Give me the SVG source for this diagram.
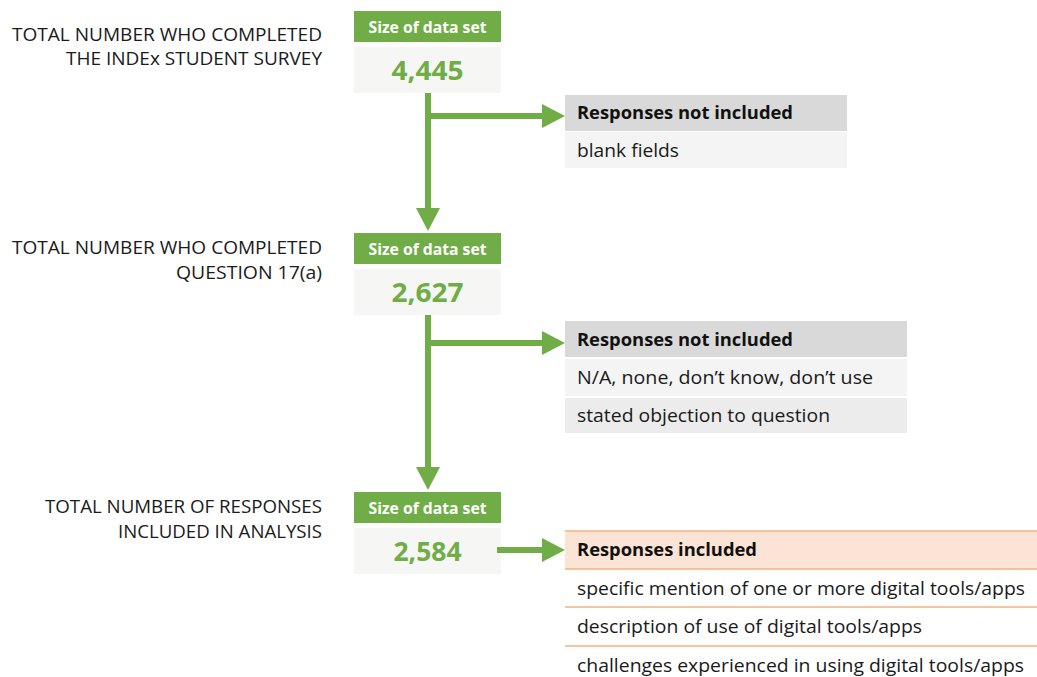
<svg xmlns="http://www.w3.org/2000/svg" width="1037" height="677" viewBox="0 0 1037 677">
  <style>
    .label { font-family: "Open Sans", "Liberation Sans", sans-serif; font-size: 19px; fill: #1a1a1a; text-anchor: end; }
    .hdr { fill: #70ad47; }
    .hdr-text { font-family: "Open Sans", "Liberation Sans", sans-serif; font-size: 16px; font-weight: bold; fill: #ffffff; text-anchor: middle; }
    .val { fill: #f6f6f4; }
    .val-text { font-family: "Open Sans", "Liberation Sans", sans-serif; font-size: 27px; font-weight: bold; fill: #70ad47; text-anchor: middle; }
    .gray-hdr { fill: #d9d9d9; }
    .gray-row { fill: #f4f4f4; }
    .gray-row2 { fill: #ececec; }
    .peach-hdr { fill: #fbe4d5; }
    .rule { stroke: #f4b183; stroke-width: 1.5; fill: none; }
    .cell-bold { font-family: "Open Sans", "Liberation Sans", sans-serif; font-size: 18px; font-weight: bold; fill: #111111; }
    .cell { font-family: "Open Sans", "Liberation Sans", sans-serif; font-size: 18px; fill: #1a1a1a; }
    .flow { stroke: #70ad47; stroke-width: 6; fill: none; marker-end: url(#ah); }
  </style>
  <defs>
    <marker id="ah" markerUnits="userSpaceOnUse" markerWidth="24" markerHeight="24" refX="8" refY="12" orient="auto">
      <path d="M0,0 L23,12 L0,24 z" fill="#70ad47"/>
    </marker>
  </defs>

  <rect width="1037" height="677" fill="#ffffff"/>

  <!-- stage labels -->
  <g id="label-survey">
    <text class="label" x="322" y="41" textLength="310" lengthAdjust="spacingAndGlyphs">TOTAL NUMBER WHO COMPLETED</text>
    <text class="label" x="322" y="65" textLength="256" lengthAdjust="spacingAndGlyphs">THE INDEx STUDENT SURVEY</text>
  </g>
  <g id="label-question">
    <text class="label" x="322" y="254" textLength="310" lengthAdjust="spacingAndGlyphs">TOTAL NUMBER WHO COMPLETED</text>
    <text class="label" x="322" y="279" textLength="146" lengthAdjust="spacingAndGlyphs">QUESTION 17(a)</text>
  </g>
  <g id="label-analysis">
    <text class="label" x="322" y="513" textLength="277" lengthAdjust="spacingAndGlyphs">TOTAL NUMBER OF RESPONSES</text>
    <text class="label" x="322" y="538" textLength="204" lengthAdjust="spacingAndGlyphs">INCLUDED IN ANALYSIS</text>
  </g>

  <!-- data set sizes -->
  <g id="size-survey">
    <rect class="hdr" x="354" y="11" width="147" height="31"/>
    <text class="hdr-text" x="427.5" y="33" textLength="118" lengthAdjust="spacingAndGlyphs">Size of data set</text>
    <rect class="val" x="354" y="47" width="147" height="46"/>
    <text class="val-text" x="427.5" y="80" textLength="72" lengthAdjust="spacingAndGlyphs">4,445</text>
  </g>
  <g id="size-question">
    <rect class="hdr" x="354" y="233" width="147" height="31"/>
    <text class="hdr-text" x="427.5" y="255" textLength="118" lengthAdjust="spacingAndGlyphs">Size of data set</text>
    <rect class="val" x="354" y="269" width="147" height="46"/>
    <text class="val-text" x="427.5" y="302" textLength="72" lengthAdjust="spacingAndGlyphs">2,627</text>
  </g>
  <g id="size-analysis">
    <rect class="hdr" x="354" y="492" width="147" height="31"/>
    <text class="hdr-text" x="427.5" y="514" textLength="118" lengthAdjust="spacingAndGlyphs">Size of data set</text>
    <rect class="val" x="354" y="528" width="147" height="46"/>
    <text class="val-text" x="427.5" y="561" textLength="68" lengthAdjust="spacingAndGlyphs">2,584</text>
  </g>

  <!-- excluded: blank -->
  <g id="excluded-blank">
    <rect class="gray-hdr" x="565" y="95" width="282" height="36"/>
    <text class="cell-bold" x="577" y="119" textLength="216" lengthAdjust="spacingAndGlyphs">Responses not included</text>
    <rect class="gray-row" x="565" y="132" width="282" height="36"/>
    <text class="cell" x="577" y="157" textLength="102" lengthAdjust="spacingAndGlyphs">blank fields</text>
  </g>

  <!-- excluded: non-answers -->
  <g id="excluded-other">
    <rect class="gray-hdr" x="565" y="321" width="342" height="36"/>
    <text class="cell-bold" x="577" y="346" textLength="216" lengthAdjust="spacingAndGlyphs">Responses not included</text>
    <rect class="gray-row" x="565" y="359" width="342" height="37"/>
    <text class="cell" x="577" y="384" textLength="296" lengthAdjust="spacingAndGlyphs">N/A, none, don’t know, don’t use</text>
    <rect class="gray-row2" x="565" y="398" width="342" height="35"/>
    <text class="cell" x="577" y="422" textLength="253" lengthAdjust="spacingAndGlyphs">stated objection to question</text>
  </g>

  <!-- included -->
  <g id="included">
    <rect class="peach-hdr" x="565" y="531" width="472" height="38"/>
    <line class="rule" x1="565" y1="531" x2="1037" y2="531"/>
    <line class="rule" x1="565" y1="569" x2="1037" y2="569"/>
    <line class="rule" x1="565" y1="607" x2="1037" y2="607"/>
    <line class="rule" x1="565" y1="646" x2="1037" y2="646"/>
    <text class="cell-bold" x="577" y="556" textLength="180" lengthAdjust="spacingAndGlyphs">Responses included</text>
    <text class="cell" x="577" y="595" textLength="448" lengthAdjust="spacingAndGlyphs">specific mention of one or more digital tools/apps</text>
    <text class="cell" x="577" y="633" textLength="345" lengthAdjust="spacingAndGlyphs">description of use of digital tools/apps</text>
    <text class="cell" x="577" y="672" textLength="447" lengthAdjust="spacingAndGlyphs">challenges experienced in using digital tools/apps</text>
  </g>

  <!-- connectors -->
  <g id="connectors">
    <path class="flow" d="M428,93 V216"/>
    <path class="flow" d="M425,116 H550"/>
    <path class="flow" d="M428,315 V475"/>
    <path class="flow" d="M425,343 H550"/>
    <path class="flow" d="M497,550 H550"/>
  </g>
</svg>
